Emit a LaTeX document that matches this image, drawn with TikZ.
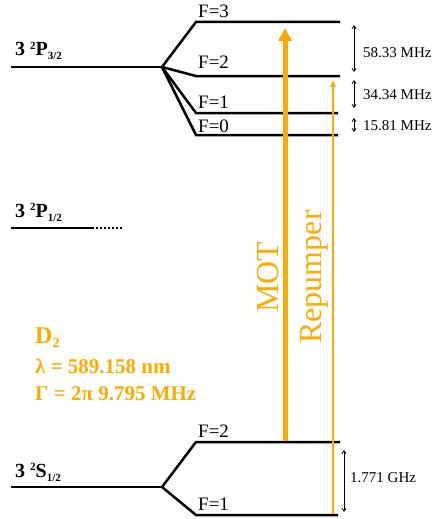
\documentclass[tikz,border=0pt]{standalone}
\usepackage{fontspec}
\setmainfont{Liberation Serif}
\usetikzlibrary{arrows.meta}
\definecolor{laser}{RGB}{255,170,0}
\begin{document}
\begin{tikzpicture}[x=1pt,y=-1pt,
  level/.style={line width=2.5pt, line join=miter, line cap=butt},
  flabel/.style={anchor=base west, inner sep=0pt, font=\fontsize{19}{19}\selectfont},
  statelabel/.style={anchor=base west, inner sep=0pt, font=\fontsize{20}{20}\selectfont\bfseries},
  freq/.style={anchor=west, inner sep=0pt, font=\fontsize{15}{15}\selectfont},
  span/.style={line width=0.8pt, {Straight Barb[length=3pt,width=4pt]}-{Straight Barb[length=3pt,width=4pt]}},
  beamlabel/.style={rotate=90, inner sep=0pt, text=laser, font=\fontsize{32}{32}\selectfont},
  dtext/.style={anchor=base west, inner sep=0pt, text=laser, font=\fontsize{21}{21}\selectfont\bfseries}
]
\useasboundingbox (0,0) rectangle (436,519);
\newcommand{\upidx}[1]{\raisebox{6.5pt}{\fontsize{11}{11}\selectfont #1}}
\newcommand{\loidx}[1]{\raisebox{-4pt}{\fontsize{11}{11}\selectfont #1}}

% 3 2P3/2 manifold
\coordinate (p32a) at (11,67);
\coordinate (p32b) at (162,67);
\coordinate (f3a) at (196,22);  \coordinate (f3b) at (340,22);
\coordinate (f2a) at (196,76);  \coordinate (f2b) at (340,76);
\coordinate (f1a) at (196,113); \coordinate (f1b) at (338,113);
\coordinate (f0a) at (196,135); \coordinate (f0b) at (338,135);
\draw[level] (p32a) -- (p32b);
\draw[level] (p32b) -- (f3a) -- (f3b);
\draw[level] (p32b) -- (f2a) -- (f2b);
\draw[level] (p32b) -- (f1a) -- (f1b);
\draw[level] (p32b) -- (f0a) -- (f0b);
\node[statelabel] (lp32) at (15,56) {3 \upidx{2}P\loidx{3/2}};
\node[flabel] (lf3) at (198,18) {F=3};
\node[flabel] (lf2) at (198,69) {F=2};
\node[flabel] (lf1) at (198,108) {F=1};
\node[flabel] (lf0) at (198,132) {F=0};

% 3 2P1/2
\coordinate (p12a) at (11,228);
\coordinate (p12b) at (92,228);
\coordinate (p12c) at (122,228);
\draw[level] (p12a) -- (p12b);
\draw[line width=2pt, dash pattern=on 2pt off 2pt] (p12b) -- (p12c);
\node[statelabel] (lp12) at (15,217) {3 \upidx{2}P\loidx{1/2}};

% 3 2S1/2
\coordinate (s12a) at (11,487);
\coordinate (s12b) at (162,487);
\coordinate (s2a) at (196,442); \coordinate (s2b) at (340,442);
\coordinate (s1a) at (196,515); \coordinate (s1b) at (338,515);
\draw[level] (s12a) -- (s12b);
\draw[level] (s12b) -- (s2a) -- (s2b);
\draw[level] (s12b) -- (s1a) -- (s1b);
\node[statelabel] (ls12) at (15,477) {3 \upidx{2}S\loidx{1/2}};
\node[flabel] (ls2) at (198,437) {F=2};
\node[flabel] (ls1) at (198,510) {F=1};

% splittings
\coordinate (a1t) at (354,25);  \coordinate (a1b) at (354,72);
\coordinate (a2t) at (354,80);  \coordinate (a2b) at (354,108);
\coordinate (a3t) at (354,118); \coordinate (a3b) at (354,132);
\coordinate (a4t) at (344,450); \coordinate (a4b) at (344,512);
\draw[span] (a1t) -- (a1b);
\draw[span] (a2t) -- (a2b);
\draw[span] (a3t) -- (a3b);
\draw[span] (a4t) -- (a4b);
\node[freq] (t1) at (363,53) {58.33 MHz};
\node[freq] (t2) at (363,95) {34.34 MHz};
\node[freq] (t3) at (363,126) {15.81 MHz};
\node[freq] (t4) at (350,478) {1.771 GHz};

% lasers
\coordinate (motb) at (285,441);
\coordinate (mott) at (285,28);
\coordinate (repb) at (333,514);
\coordinate (rept) at (333,80);
\draw[laser, line width=5pt, -{Triangle[length=13pt,width=13pt]}] (motb) -- (mott);
\draw[laser, line width=1.5pt, -{Triangle[length=7pt,width=5pt]}] (repb) -- (rept);
\node[beamlabel] (lmot) at (268,277) {MOT};
\node[beamlabel] (lrep) at (314,277) {Repumper};

% D2 text
\node[dtext, font=\fontsize{24}{24}\selectfont\bfseries] (d2) at (35,343) {D\raisebox{-4pt}{\fontsize{14}{14}\selectfont 2}};
\node[dtext] (lam) at (35,373) {λ = 589.158 nm};
\node[dtext] (gam) at (35,400) {Γ = 2π 9.795 MHz};
\end{tikzpicture}
\end{document}
